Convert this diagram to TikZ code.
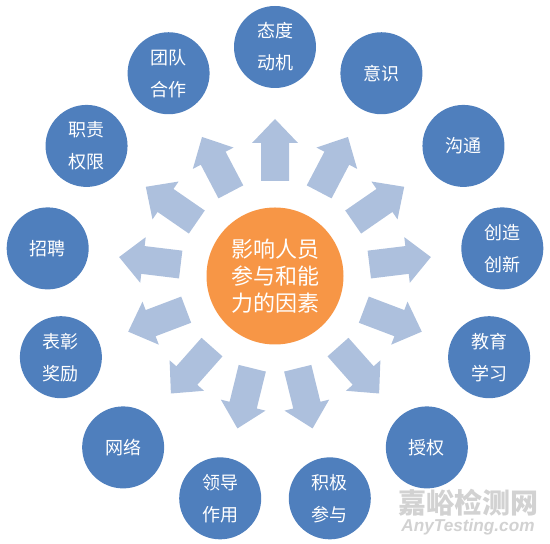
\documentclass[tikz,border=0pt]{standalone}
\usepackage{fontspec}
\newfontfamily\cjk{Noto Sans CJK SC}
\newfontfamily\wmlatin{Liberation Sans}
\definecolor{factorblue}{HTML}{4F7FBD}
\definecolor{huborange}{HTML}{F79646}
\definecolor{arrowblue}{HTML}{ADC0DD}
\definecolor{wmgray}{HTML}{D2D2D2}
\begin{document}
\begin{tikzpicture}[x=0.5pt,y=0.5pt,
  factor/.style={circle, fill=factorblue, minimum size=41pt, inner sep=0pt, text=white,
    font=\cjk\fontsize{9}{16}\selectfont, align=center},
  hub/.style={circle, fill=huborange, minimum size=68.5pt, inner sep=0pt, text=white,
    font=\cjk\fontsize{11}{13.5}\selectfont, align=center},
  blockarrow/.style={fill=arrowblue},
  wmark/.style={text=wmgray, inner sep=0pt}]
\useasboundingbox (-275,-268) rectangle (275,276);
% outward block arrows
\foreach \k in {0,...,12}{
  \fill[blockarrow, rotate={90-\k*360/13}]
    (95,-14) -- (133,-14) -- (133,-23) -- (157,0) -- (133,23) -- (133,14) -- (95,14) -- cycle;
}
\node[hub] (hub) at (0,0) {影响人员\\参与和能\\力的因素};
\node[factor] (f0)  at (90:229)       {态度\\动机};
\node[factor] (f1)  at (62.308:229)   {意识};
\node[factor] (f2)  at (34.615:229)   {沟通};
\node[factor] (f3)  at (6.923:229)    {创造\\创新};
\node[factor] (f4)  at (-20.769:229)  {教育\\学习};
\node[factor] (f5)  at (-48.462:229)  {授权};
\node[factor] (f6)  at (-76.154:229)  {积极\\参与};
\node[factor] (f7)  at (-103.846:229) {领导\\作用};
\node[factor] (f8)  at (-131.538:229) {网络};
\node[factor] (f9)  at (-159.231:229) {表彰\\奖励};
\node[factor] (f10) at (173.077:229)  {招聘};
\node[factor] (f11) at (145.385:229)  {职责\\权限};
\node[factor] (f12) at (117.692:229)  {团队\\合作};
% watermark
\node[wmark, font=\cjk\bfseries\fontsize{14}{14}\selectfont] (wm1) at (193,-227) {嘉峪检测网};
\node[wmark, font=\wmlatin\bfseries\itshape\fontsize{8.6}{9}\selectfont] (wm2) at (193,-251) {AnyTesting.com};
\end{tikzpicture}
\end{document}
